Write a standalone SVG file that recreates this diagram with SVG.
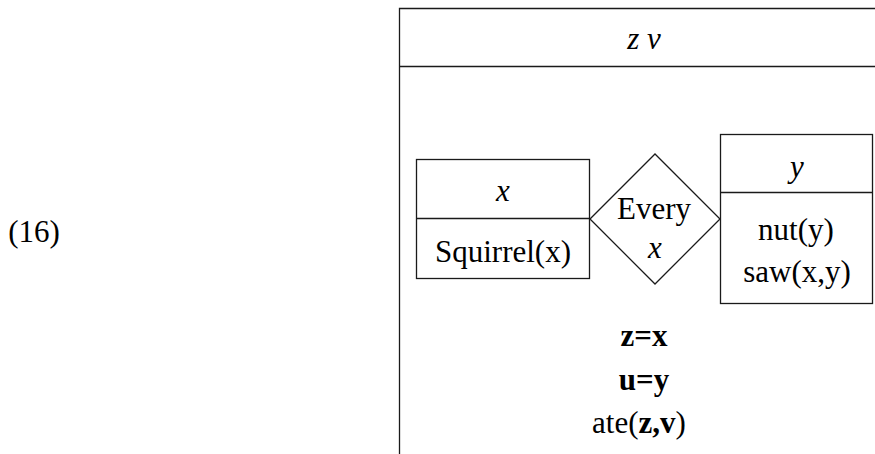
<svg xmlns="http://www.w3.org/2000/svg" width="875" height="454" viewBox="0 0 875 454">
<style>
.ln{fill:none;stroke:#1a1a1a;stroke-width:1.3}
.t{font-family:"Liberation Serif","Times New Roman",serif;font-size:31px;fill:#000;text-anchor:middle}
.i{font-style:italic}
.b{font-weight:bold}
</style>
<rect width="875" height="454" fill="#fff"/>
<text class="t" x="34" y="242">(16)</text>
<g id="drs">
<path class="ln" d="M399.5,458 V8.5 H880"/>
<line class="ln" x1="399.5" y1="66.5" x2="880" y2="66.5"/>
<text class="t i" x="644" y="49">z v</text>
<text class="t b" x="644" y="346">z=x</text>
<text class="t b" x="644" y="390">u=y</text>
<text class="t" x="639" y="433">ate(<tspan class="b">z,v</tspan>)</text>
</g>
<g id="box-x">
<rect class="ln" x="416.5" y="159.5" width="173" height="119"/>
<line class="ln" x1="416.5" y1="218.5" x2="589.5" y2="218.5"/>
<text class="t i" x="503" y="201">x</text>
<text class="t" x="503" y="262">Squirrel(x)</text>
</g>
<g id="every">
<polygon class="ln" points="590,219 655,154 720,219 655,284"/>
<text class="t" x="654" y="219">Every</text>
<text class="t i" x="655" y="258">x</text>
</g>
<g id="box-y">
<rect class="ln" x="720.5" y="134.5" width="152" height="169"/>
<line class="ln" x1="720.5" y1="192.5" x2="872.5" y2="192.5"/>
<text class="t i" x="797" y="177">y</text>
<text class="t" x="796" y="240">nut(y)</text>
<text class="t" x="797" y="282">saw(x,y)</text>
</g>
<g id="connectors"></g>
</svg>
